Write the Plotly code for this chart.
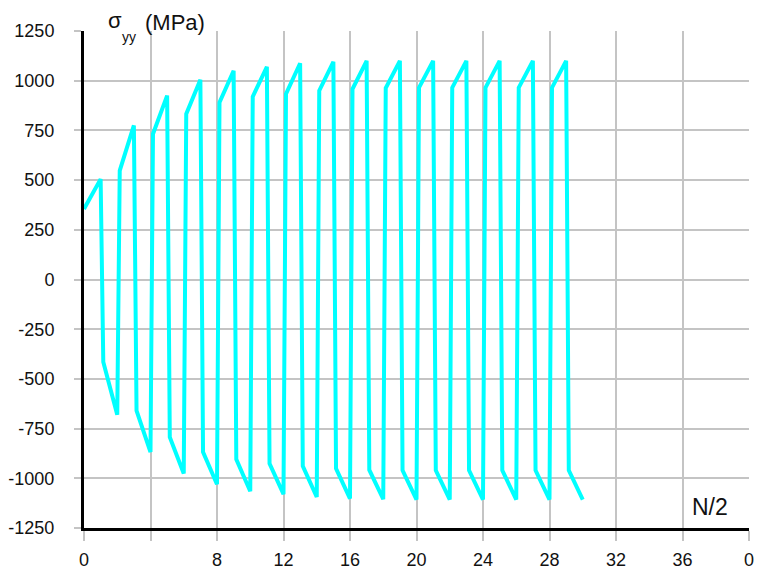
import plotly.graph_objects as go

# ---- data ----
start_point = (0.0, 355)
# peaks at N/2 = 1, 3, 5, ..., 29
peak_values = [505, 775, 925, 1005, 1050, 1070, 1088, 1095, 1100, 1100, 1100, 1100, 1100, 1100, 1100]
# troughs at N/2 = 2, 4, ..., 30
trough_values = [-680, -868, -976, -1030, -1065, -1080, -1094, -1102, -1105, -1107, -1107, -1107, -1107, -1107, -1107]
# plastic onset (knee) on each unloading from a peak
down_knee_values = [-415, -660, -793, -868, -905, -926, -938, -951, -958, -960, -960, -960, -960, -960, -960]
# plastic onset (knee) on each reloading from a trough
up_knee_values = [548, 732, 833, 891, 920, 933, 950, 958, 963, 965, 965, 965, 965, 965]
knee_offset_down = 0.16   # N/2 offset of knee after a peak
knee_offset_up = 0.15     # N/2 offset of knee after a trough

x_tick_vals = [0, 4, 8, 12, 16, 20, 24, 28, 32, 36, 40]
x_tick_text = ["0", "", "8", "12", "16", "20", "24", "28", "32", "36", "0"]
y_tick_vals = [-1250, -1000, -750, -500, -250, 0, 250, 500, 750, 1000, 1250]
y_tick_text = ["-1250", "-1000", "-750", "-500", "-250", "0", "250", "500", "750", "1000", "1250"]

# ---- build path ----
xs = [start_point[0], 1]
ys = [start_point[1], peak_values[0]]
for i in range(len(peak_values)):
    k = 2 * i + 1
    xs += [k + knee_offset_down, k + 1]
    ys += [down_knee_values[i], trough_values[i]]
    if i < len(up_knee_values):
        xs += [k + 1 + knee_offset_up, k + 2]
        ys += [up_knee_values[i], peak_values[i + 1]]

fig = go.Figure()
fig.add_trace(go.Scatter(x=xs, y=ys, mode="lines",
                         line=dict(color="#00FFFF", width=4), hoverinfo="skip"))

FONT = "Liberation Sans, Arial, sans-serif"
fig.update_layout(
    width=760, height=573,
    margin=dict(l=84, r=11, t=31, b=45, autoexpand=False),
    paper_bgcolor="white", plot_bgcolor="white",
    showlegend=False,
    font=dict(family=FONT, size=18, color="#111"),
)
fig.update_xaxes(
    range=[0, 40], tickvals=x_tick_vals, ticktext=x_tick_text,
    showgrid=True, gridcolor="#c4c4c4", gridwidth=1.5,
    showline=True, linecolor="black", linewidth=3,
    ticks="outside", ticklen=10, tickcolor="#c4c4c4", tickwidth=1.5,
    ticklabelstandoff=3, zeroline=False, tickfont=dict(size=18),
    automargin=False,
)
fig.update_yaxes(
    range=[-1250, 1250], tickvals=y_tick_vals, ticktext=y_tick_text,
    showgrid=True, gridcolor="#c4c4c4", gridwidth=1.5,
    showline=True, linecolor="black", linewidth=3,
    ticks="outside", ticklen=7, tickcolor="#c4c4c4", tickwidth=1.5,
    ticklabelstandoff=16, zeroline=False, tickfont=dict(size=18),
    automargin=False,
)

ann = dict(xref="paper", yref="paper", showarrow=False, xanchor="center", yanchor="middle")
fig.add_annotation(text="σ", x=0.0459, y=1.022, font=dict(size=22, family=FONT, color="#111"), **ann)
fig.add_annotation(text="yy", x=0.0677, y=0.988, font=dict(size=14, family=FONT, color="#111"), **ann)
fig.add_annotation(text="(MPa)", x=0.1368, y=1.018, font=dict(size=22, family=FONT, color="#111"), **ann)
fig.add_annotation(text="N/2", x=0.9414, y=0.043, font=dict(size=23, family=FONT, color="#111"), **ann)

fig.write_html("out.html",
               config={"displayModeBar": False},
               post_script="document.body.style.margin='0';document.body.style.overflow='hidden';")
